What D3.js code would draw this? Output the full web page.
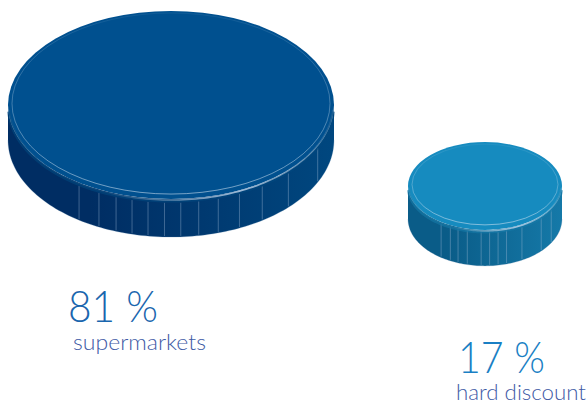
<!DOCTYPE html>
<html><head><meta charset="utf-8">
<script src="https://cdn.jsdelivr.net/npm/d3@7"></script>
<style>html,body{margin:0;padding:0;background:#fff}svg{display:block}</style></head>
<body><svg id="c" width="588" height="405"></svg>
<script>
const categories = ["supermarkets", "hard discount"];
const shares = [81, 17];
const shareLabels = ["81 %", "17 %"];
const topColors = ["#00508f", "#168bbf"];
const sideDark = ["#002d63", "#0a5c88"];
const sideLight = ["#00477f", "#1579a8"];
const pctColors = ["#1a66ae", "#1a7fc4"];
const facetFractions = [
  [-0.564,-0.442,-0.337,-0.239,-0.141,-0.04,0.06,0.17,0.29,0.42,0.56,0.72,0.9],
  [-0.57,-0.45,-0.35,-0.23,-0.05,0.06,0.17,0.28,0.48,0.73,0.86]
];
const svg=d3.select("#c");
const rx=d3.scalePow().exponent(0.48).domain([17,81]).range([77,163]);
const ratio=d3.scaleLinear().domain([77,163]).range([0.57,0.577]);
const cxS=d3.scaleOrdinal().domain(categories).range([171,485]);
const cyS=d3.scaleOrdinal().domain(categories).range([105,186]);
const depth=d3.scaleLinear().domain([17,81]).range([36,38]);
const labelX=d3.scaleOrdinal().domain(categories).range([68,458]);
const labelY=d3.scaleOrdinal().domain(categories).range([322,373]);
const labelW=d3.scaleOrdinal().domain(categories).range([90,87]);
const nameX=d3.scaleOrdinal().domain(categories).range([73,456]);
const nameY=d3.scaleOrdinal().domain(categories).range([350,400]);
const nameW=d3.scaleOrdinal().domain(categories).range([133,130]);
const defs=svg.append("defs");
const ringG=defs.append("linearGradient").attr("id","ring").attr("x1",0).attr("x2",0).attr("y1",0).attr("y2",1);
ringG.append("stop").attr("offset","0").attr("stop-color","#d4e4f2").attr("stop-opacity",0.1);
ringG.append("stop").attr("offset","0.45").attr("stop-color","#d4e4f2").attr("stop-opacity",0.4);
ringG.append("stop").attr("offset","1").attr("stop-color","#d4e4f2").attr("stop-opacity",0.8);
categories.forEach((c,i)=>{
  const g=defs.append("linearGradient").attr("id","side"+i);
  g.append("stop").attr("offset","0.25").attr("stop-color",sideDark[i]);
  g.append("stop").attr("offset","1").attr("stop-color",sideLight[i]);
  const h=defs.append("linearGradient").attr("id","hi"+i).attr("x1",0).attr("x2",1).attr("y1",0).attr("y2",0);
  h.append("stop").attr("offset","0.3").attr("stop-color","#fff").attr("stop-opacity",0.05);
  h.append("stop").attr("offset","0.72").attr("stop-color","#cfe0f5").attr("stop-opacity",0.75);
  h.append("stop").attr("offset","1").attr("stop-color","#fff").attr("stop-opacity",0.1);
});
const pts=(cx,cy,a,b,t0,t1,n=120)=>d3.range(n+1).map(k=>{const t=t0+(t1-t0)*k/n;return [cx+a*Math.cos(t),cy+b*Math.sin(t)];});
const line=d3.line();
categories.forEach((c,i)=>{
  const a=rx(shares[i]), b=a*ratio(a), cx=cxS(c), cy=cyS(c), d=depth(shares[i]);
  const g=svg.append("g");
  const lower=pts(cx,cy+d-3,a,b+3,0,Math.PI);
  const upper=pts(cx,cy,a,b,Math.PI,0);
  g.append("path").attr("d",line(lower.concat(upper))+"Z").attr("fill",`url(#side${i})`);
  g.selectAll("line.f").data(facetFractions[i]).join("line").attr("class","f")
    .attr("x1",f=>cx+f*a).attr("x2",f=>cx+f*a)
    .attr("y1",f=>cy+b*1.03*Math.sqrt(1-f*f)+1)
    .attr("y2",f=>cy+d-3+(b+3)*Math.sqrt(1-f*f)-1)
    .attr("stroke","#9db8d4").attr("stroke-opacity",0.5).attr("stroke-width",0.8);
  g.append("ellipse").attr("cx",cx).attr("cy",cy).attr("rx",a).attr("ry",b).attr("fill",topColors[i]);
  g.append("path").attr("d",line(pts(cx,cy+2,a-0.5,b,0.05,Math.PI-0.05))).attr("fill","none").attr("stroke",sideLight[i]).attr("stroke-width",3).attr("stroke-opacity",0.6);
  g.append("path").attr("d",line(pts(cx,cy,a-1,b+1,0.05,Math.PI-0.05))).attr("fill","none").attr("stroke",`url(#hi${i})`).attr("stroke-width",1.6);
  g.append("ellipse").attr("cx",cx).attr("cy",cy-1.5).attr("rx",a-4).attr("ry",b-3.5)
    .attr("fill","none").attr("stroke","url(#ring)").attr("stroke-width",0.7);
  g.append("path").attr("d",line(pts(cx,cy+d-3,a,b+3,0,Math.PI))).attr("fill","none").attr("stroke","#5f86b0").attr("stroke-opacity",0.4).attr("stroke-width",0.6);
  svg.append("text").attr("x",labelX(c)).attr("y",labelY(c)).text(shareLabels[i])
    .attr("textLength",labelW(c)).attr("lengthAdjust","spacingAndGlyphs")
    .attr("font-family","Lato, 'Open Sans', sans-serif").attr("font-weight",300).attr("font-size",44).attr("fill",pctColors[i]);
  svg.append("text").attr("x",nameX(c)).attr("y",nameY(c)).text(c)
    .attr("textLength",nameW(c)).attr("lengthAdjust","spacingAndGlyphs")
    .attr("font-family","Lato, 'Open Sans', sans-serif").attr("font-weight",300).attr("font-size",22).attr("fill","#3f5ba6");
});
</script></body></html>
